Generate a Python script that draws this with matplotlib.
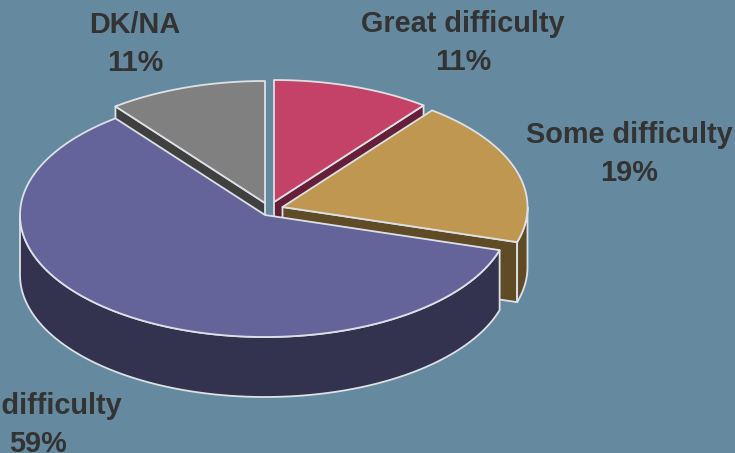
import numpy as np
import matplotlib
matplotlib.use("Agg")
import matplotlib.pyplot as plt
from matplotlib.patches import Polygon

categories = ["Great difficulty", "Some difficulty", "No difficulty", "DK/NA"]
percent_labels = ["11%", "19%", "59%", "11%"]
shares = [10.45, 19.2, 59.9, 10.45]

top_colors = ["#C44268", "#C09750", "#64649A", "#808080"]
side_colors = ["#661F38", "#5F4B26", "#33334F", "#404040"]
centers = [(274, 202), (282.5, 207), (265, 215), (265, 203)]
label_pos = [(463, 43), (629, 154), (38, 425), (135, 44)]

BG = "#65899E"
EDGE = "#DCE1E6"
TEXT = "#333333"
RX, RY, DEPTH = 245, 122, 60

fig = plt.figure(figsize=(7.35, 4.53), dpi=100, facecolor=BG)
ax = fig.add_axes([0, 0, 1, 1])
ax.set_xlim(0, 735)
ax.set_ylim(453, 0)
ax.axis("off")


def rim(c, a0, a1):
    t = np.radians(np.linspace(a0, a1, 160))
    return np.column_stack([c[0] + RX * np.cos(t), c[1] - RY * np.sin(t)])


def face(pts, color, z):
    ax.add_patch(Polygon(pts, closed=True, facecolor=color, edgecolor=EDGE,
                         linewidth=1.3, joinstyle="round", zorder=z))


# Clockwise from 12 o'clock
edges = 90 - np.cumsum([0] + shares) * 3.6
wedges = [(edges[i], edges[i + 1]) for i in range(4)]
down = np.array([0, DEPTH])

# Painter's order: back slices first, the large front slice last
for order, i in enumerate([3, 0, 1, 2]):
    c = np.array(centers[i], float)
    a_start, a_end = wedges[i]
    z = 2 + order * 3
    arc = rim(c, a_start, a_end)

    # cut faces looking at the viewer
    if i in (0, 1):
        corner = arc[-1]
        face([c, corner, corner + down, c + down], side_colors[i], z)
    if i == 3:
        corner = arc[0]
        face([c, corner, corner + down, c + down], side_colors[i], z)

    # outer rim wall, only where the rim faces the front
    if i == 1:
        wall = rim(c, 0, a_end)
    elif i == 2:
        wall = rim(c, a_start, -180)
    else:
        wall = None
    if wall is not None:
        face(np.vstack([wall, (wall + down)[::-1]]), side_colors[i], z + 1)

    face(np.vstack([c, arc]), top_colors[i], z + 2)

for name, pct, (x, y) in zip(categories, percent_labels, label_pos):
    ax.text(x, y, f"{name}\n{pct}", ha="center", va="center", color=TEXT,
            family="Liberation Sans", fontweight="bold", fontsize=20.8,
            linespacing=1.46, zorder=30)

fig.savefig("out.png", dpi=100, facecolor=BG)
